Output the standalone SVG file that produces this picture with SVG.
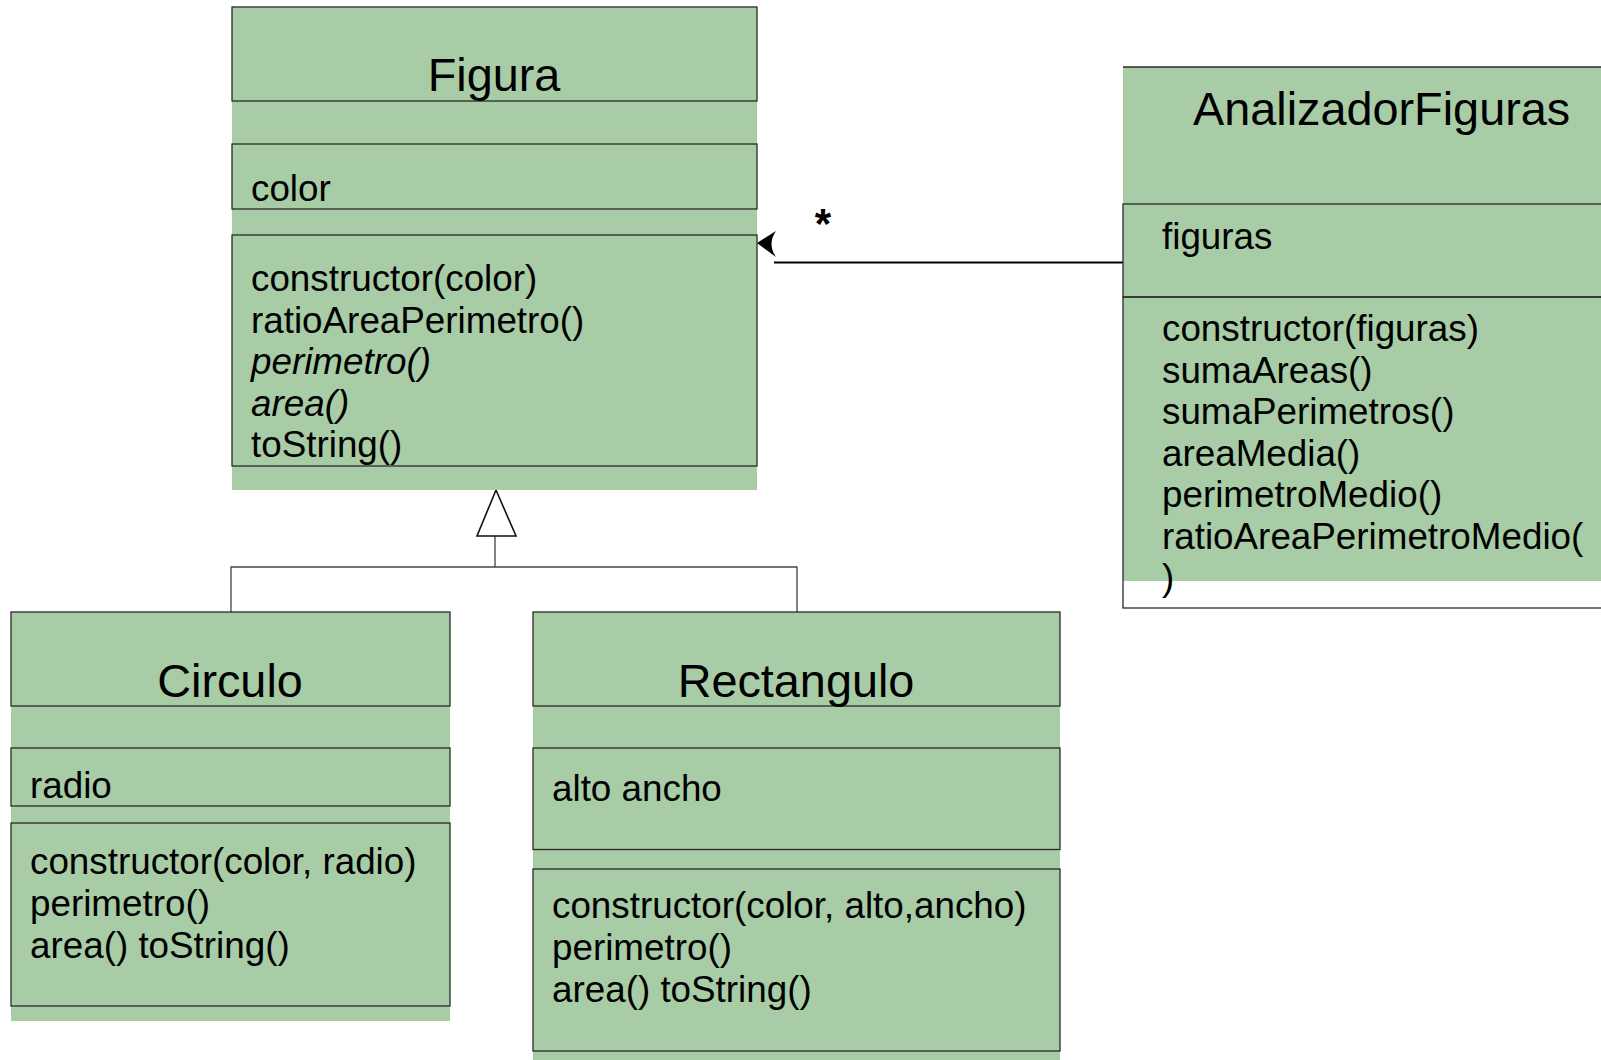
<svg xmlns="http://www.w3.org/2000/svg" width="1601" height="1060" viewBox="0 0 1601 1060">
<style>
.fill{fill:#a8cca6;stroke:none}
.box{fill:none;stroke:#2a2a2a;stroke-width:1.3}
.title{font-family:"Liberation Sans",Arial,sans-serif;font-size:46.8px;fill:#000}
.txt{font-family:"Liberation Sans",Arial,sans-serif;font-size:36.8px;fill:#000}
.it{font-style:italic}
.gen{fill:none;stroke:#444;stroke-width:1.3}
</style>
<rect x="0" y="0" width="1601" height="1060" fill="#fff"/>
<g id="connectors">
  <path class="gen" d="M231,612 V567 H797 V612 M495,567 V536"/>
  <polygon points="496,490 477,536 516,536" fill="#fff" stroke="#111" stroke-width="1.6"/>
  <line x1="774" y1="262.5" x2="1123" y2="262.5" stroke="#000" stroke-width="2.2"/>
  <path d="M757,243 L776,231 Q767,244 776,257 Z" fill="#000"/>
  <text x="823" y="238" text-anchor="middle" style="font-family:'Liberation Sans',Arial,sans-serif;font-size:42px;font-weight:bold">*</text>
</g>
<g id="Figura">
  <rect class="fill" x="232" y="7" width="525" height="483"/>
  <rect class="box" x="232" y="7" width="525" height="94"/>
  <rect class="box" x="232" y="144" width="525" height="65"/>
  <rect class="box" x="232" y="235" width="525" height="231"/>
  <text class="title" x="494" y="91" text-anchor="middle">Figura</text>
  <text class="txt" x="251" y="201">color</text>
  <text class="txt" x="251" y="291">constructor(color)</text>
  <text class="txt" x="251" y="332.6">ratioAreaPerimetro()</text>
  <text class="txt it" x="251" y="374.2">perimetro()</text>
  <text class="txt it" x="251" y="415.8">area()</text>
  <text class="txt" x="251" y="457.4">toString()</text>
</g>
<g id="AnalizadorFiguras">
  <rect class="fill" x="1123" y="67" width="520" height="514"/>
  <line class="box" x1="1123" y1="67" x2="1601" y2="67"/>
  <rect class="box" x="1123" y="204" width="520" height="93"/>
  <rect class="box" x="1123" y="297" width="520" height="311"/>
  <text class="title" x="1193" y="125">AnalizadorFiguras</text>
  <text class="txt" x="1162" y="249">figuras</text>
  <text class="txt" x="1162" y="341">constructor(figuras)</text>
  <text class="txt" x="1162" y="382.5">sumaAreas()</text>
  <text class="txt" x="1162" y="424">sumaPerimetros()</text>
  <text class="txt" x="1162" y="465.5">areaMedia()</text>
  <text class="txt" x="1162" y="507">perimetroMedio()</text>
  <text class="txt" x="1162" y="548.5">ratioAreaPerimetroMedio(</text>
  <text class="txt" x="1162" y="590">)</text>
</g>
<g id="Circulo">
  <rect class="fill" x="11" y="612" width="439" height="409"/>
  <rect class="box" x="11" y="612" width="439" height="94"/>
  <rect class="box" x="11" y="748" width="439" height="58"/>
  <rect class="box" x="11" y="823" width="439" height="183"/>
  <text class="title" x="230" y="697" text-anchor="middle">Circulo</text>
  <text class="txt" x="30" y="798">radio</text>
  <text class="txt" x="30" y="874">constructor(color, radio)</text>
  <text class="txt" x="30" y="916">perimetro()</text>
  <text class="txt" x="30" y="958">area() toString()</text>
</g>
<g id="Rectangulo">
  <rect class="fill" x="533" y="612" width="527" height="448"/>
  <rect class="box" x="533" y="612" width="527" height="94"/>
  <rect class="box" x="533" y="748" width="527" height="101.5"/>
  <rect class="box" x="533" y="869" width="527" height="182"/>
  <text class="title" x="796" y="697" text-anchor="middle">Rectangulo</text>
  <text class="txt" x="552" y="801">alto ancho</text>
  <text class="txt" x="552" y="918">constructor(color, alto,ancho)</text>
  <text class="txt" x="552" y="960">perimetro()</text>
  <text class="txt" x="552" y="1002">area() toString()</text>
</g>
</svg>
